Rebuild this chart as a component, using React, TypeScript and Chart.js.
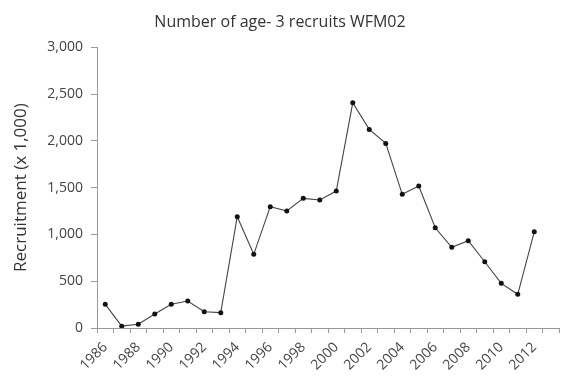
import React, { useEffect, useRef } from "react";
import { Chart, registerables } from "chart.js";

Chart.register(...registerables);

const years: string[] = [
  "1986", "1987", "1988", "1989", "1990", "1991", "1992", "1993", "1994", "1995",
  "1996", "1997", "1998", "1999", "2000", "2001", "2002", "2003", "2004", "2005",
  "2006", "2007", "2008", "2009", "2010", "2011", "2012", "2013",
];

const recruits: (number | null)[] = [
  253, 20, 40, 150, 253, 288, 174, 164, 1189, 787,
  1296, 1250, 1385, 1367, 1463, 2406, 2122, 1972, 1428, 1517,
  1071, 862, 933, 708, 477, 360, 1028, null,
];

const titleText = "Number of age- 3 recruits WFM02";
const yTitle = "Recruitment (x 1,000)";

const FONT = "'Open Sans', 'DejaVu Sans', sans-serif";

export default function App() {
  const ref = useRef<HTMLCanvasElement | null>(null);

  useEffect(() => {
    if (!ref.current) return;
    const chart = new Chart(ref.current, {
      type: "line",
      data: {
        labels: years,
        datasets: [
          {
            data: recruits,
            borderColor: "#444",
            borderWidth: 1.1,
            pointBackgroundColor: "#111",
            pointBorderColor: "#111",
            pointRadius: 2.5,
            pointBorderWidth: 0,
            tension: 0,
            spanGaps: false,
          },
        ],
      },
      options: {
        animation: false,
        responsive: true,
        maintainAspectRatio: false,
        layout: { padding: { left: 0, right: 3, top: 0, bottom: 0 } },
        plugins: {
          legend: { display: false },
          tooltip: { enabled: false },
          title: {
            display: true,
            text: titleText,
            color: "#333",
            font: { family: FONT, size: 16, weight: "normal" },
            padding: { top: 13, bottom: 15 },
          },
        },
        scales: {
          x: {
            type: "category",
            offset: true,
            border: { display: true, color: "#999", width: 1 },
            grid: {
              offset: true,
              drawOnChartArea: false,
              drawTicks: true,
              tickLength: 5,
              color: "#999",
            },
            ticks: {
              autoSkip: false,
              maxRotation: 45,
              minRotation: 45,
              color: "#444",
              padding: 6,
              font: { family: FONT, size: 14 },
              callback: (_v: any, i: number) => (i % 2 === 0 && i < 27 ? years[i] : ""),
            },
            afterFit: (s: any) => {
              s.height = 49;
              s.paddingRight = 0;
              s.paddingLeft = 0;
            },
          },
          y: {
            min: 0,
            max: 3000,
            border: { display: true, color: "#999", width: 1 },
            grid: {
              drawOnChartArea: false,
              drawTicks: true,
              tickLength: 6,
              color: "#999",
            },
            ticks: {
              stepSize: 500,
              color: "#444",
              padding: 8,
              font: { family: FONT, size: 14 },
              callback: (v: any) => Number(v).toLocaleString("en-US"),
            },
            title: {
              display: true,
              text: yTitle,
              color: "#333",
              font: { family: FONT, size: 17, weight: "normal" },
              padding: { top: 11, bottom: 0 },
            },
            afterFit: (s: any) => {
              s.width = 97;
            },
          },
        },
      },
    });
    return () => chart.destroy();
  }, []);

  return (
    <div style={{ position: "fixed", left: 0, top: 0, width: 563, height: 377, background: "#fff" }}>
      <canvas ref={ref} />
    </div>
  );
}
